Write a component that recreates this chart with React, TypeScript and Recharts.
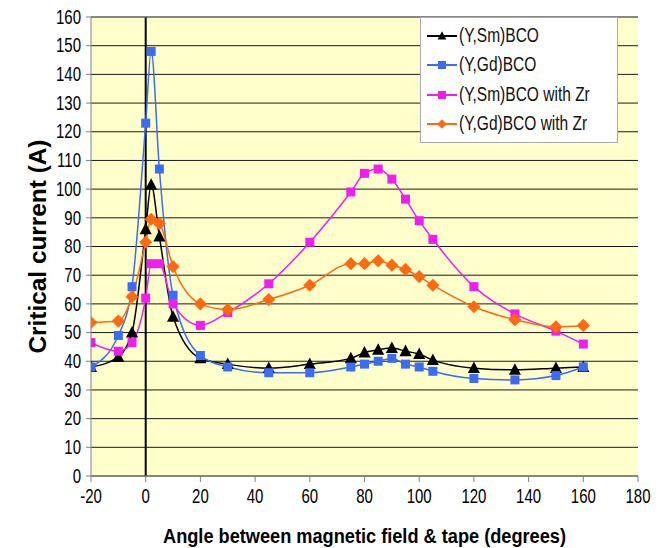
import React from "react";
import { LineChart, Line, XAxis, YAxis, CartesianGrid, ReferenceLine } from "recharts";

const angles = [-20, -10, -5, 0, 2, 5, 10, 20, 30, 45, 60, 75, 80, 85, 90, 95, 100, 105, 120, 135, 150, 160];
const ysmBCO = [38, 41.5, 50, 86, 101.5, 83.5, 55.5, 41, 39, 37.6, 39, 41, 43, 44, 44.6, 43.5, 42.5, 40.4, 37.6, 37, 37.6, 38];
const ygdBCO = [38, 49, 66, 123, 148, 107, 63, 42, 38, 36, 36, 38, 39, 40, 41, 39, 38, 36.5, 34, 33.5, 35, 38];
const ysmZr = [46.5, 43.5, 46.5, 62, 74, 74, 60, 52.5, 57, 67, 81.5, 99, 105.5, 107, 103.5, 96.5, 89, 82.5, 66, 56.5, 50.5, 46];
const ygdZr = [53.5, 54, 62.5, 81.5, 89.5, 88, 73, 60, 58, 61.5, 66.5, 74, 74, 75, 73.5, 72, 69.5, 66.5, 59, 54.5, 52, 52.5];
const seriesNames = ["(Y,Sm)BCO", "(Y,Gd)BCO", "(Y,Sm)BCO with Zr", "(Y,Gd)BCO with Zr"];
const xTicks = [-20, 0, 20, 40, 60, 80, 100, 120, 140, 160, 180];
const yTicks = [0, 10, 20, 30, 40, 50, 60, 70, 80, 90, 100, 110, 120, 130, 140, 150, 160];

const data = angles.map((a, i) => ({ angle: a, s1: ysmBCO[i], s2: ygdBCO[i], s3: ysmZr[i], s4: ygdZr[i] }));

const colors = ["#000000", "#3a6cf4", "#f01ef0", "#ff6a10"];
const shapes = ["triangle", "square", "square", "diamond"];
const font = "'Liberation Sans', Arial, sans-serif";

function Marker({ cx, cy, shape, color, size }: any) {
  if (cx == null || cy == null) return null;
  const s = size;
  if (shape === "triangle") {
    return <path d={`M${cx},${cy - s * 0.6} L${cx + s * 0.55},${cy + s * 0.45} L${cx - s * 0.55},${cy + s * 0.45} Z`} fill={color} />;
  }
  if (shape === "diamond") {
    return <path d={`M${cx},${cy - s * 0.6} L${cx + s * 0.6},${cy} L${cx},${cy + s * 0.6} L${cx - s * 0.6},${cy} Z`} fill={color} />;
  }
  return <rect x={cx - s / 2} y={cy - s / 2} width={s} height={s} fill={color} />;
}

const makeDot = (idx: number) => (props: any) => (
  <Marker key={`d${idx}-${props.index}`} cx={props.cx} cy={props.cy} shape={shapes[idx]} color={colors[idx]} size={idx === 0 ? 11 : idx === 3 ? 11 : 9} />
);

function LegendBox() {
  return (
    <div style={{ position: "absolute", left: 412, top: 9, background: "#fff", border: "1px solid #aaa", width: 198, height: 126, boxSizing: "border-box", padding: "3px 0 0 6px", fontFamily: font, fontSize: 16, color: "#111" }}>
      {seriesNames.map((n, i) => (
        <div key={n} style={{ display: "flex", alignItems: "center", height: 29.5 }}>
          <svg width={30} height={14} style={{ marginRight: 2 }}>
            <line x1={0} y1={7} x2={30} y2={7} stroke={colors[i]} strokeWidth={2} />
            <Marker cx={15} cy={7} shape={shapes[i]} color={colors[i]} size={8} />
          </svg>
          <span style={{ display: "inline-block", whiteSpace: "nowrap", transform: "scale(0.97, 1.28)", transformOrigin: "left center" }}>{n}</span>
        </div>
      ))}
    </div>
  );
}

const XTick = (props: any) => {
  const { x, y, payload } = props;
  return (
    <text transform={`translate(${x} ${y + 12}) scale(1 1.3)`} textAnchor="middle" dominantBaseline="central" fill="#000" fontSize={15} fontFamily={font}>
      {payload.value}
    </text>
  );
};

const YTick = (props: any) => {
  const { x, y, payload } = props;
  return (
    <text transform={`translate(${x} ${y}) scale(1 1.3)`} textAnchor="end" dominantBaseline="central" fill="#000" fontSize={15} fontFamily={font}>
      {payload.value}
    </text>
  );
};

const XLabel = (props: any) => {
  const vb = props.viewBox || {};
  const cx = vb.x + vb.width / 2;
  return (
    <text x={cx} y={vb.y + 67} textAnchor="middle" fill="#000" fontSize={20} fontWeight="bold" fontFamily={font} textLength={403} lengthAdjust="spacingAndGlyphs">
      Angle between magnetic field &amp; tape (degrees)
    </text>
  );
};

const YLabel = (props: any) => {
  const vb = props.viewBox || {};
  const cx = 30;
  const cy = vb.y + vb.height / 2;
  return (
    <text x={cx} y={cy} transform={`rotate(-90 ${cx} ${cy})`} textAnchor="middle" dominantBaseline="central" fill="#000" fontSize={23} fontWeight="bold" fontFamily={font} textLength={214} lengthAdjust="spacingAndGlyphs">
      Critical current (A)
    </text>
  );
};

export default function App() {
  return (
    <div style={{ position: "relative", width: 660, height: 540 }}>
      <style>{"svg.recharts-surface { overflow: visible; }"}</style>
      <LineChart width={660} height={540} data={data} margin={{ top: 9, right: 30, bottom: 0, left: 0 }} style={{ fontFamily: font }}>
        <CartesianGrid vertical={false} stroke="#1a1a1a" strokeWidth={1} fill="#ffffcc" fillOpacity={1} />
        <XAxis
          dataKey="angle"
          type="number"
          domain={[-20, 180]}
          ticks={xTicks}
          interval={0}
          allowDataOverflow
          stroke="#808080"
          tick={<XTick />}
          tickSize={6}
          tickMargin={2}
          height={72}
          label={<XLabel />}
        />
        <YAxis
          domain={[0, 160]}
          ticks={yTicks}
          interval={0}
          stroke="#808080"
          tick={<YTick />}
          tickSize={5}
          tickMargin={5}
          width={83}
          label={<YLabel />}
        />
        <YAxis yAxisId="r" orientation="right" domain={[0, 160]} tick={false} tickLine={false} stroke="#808080" width={0} />
        <ReferenceLine x={0} stroke="#000" strokeWidth={2} />
        <ReferenceLine y={160} stroke="#808080" strokeWidth={1} />
        <Line dataKey="s1" type="monotone" stroke={colors[0]} strokeWidth={1.5} dot={makeDot(0)} isAnimationActive={false} />
        <Line dataKey="s2" type="monotone" stroke={colors[1]} strokeWidth={1.5} dot={makeDot(1)} isAnimationActive={false} />
        <Line dataKey="s3" type="monotone" stroke={colors[2]} strokeWidth={1.5} dot={makeDot(2)} isAnimationActive={false} />
        <Line dataKey="s4" type="monotone" stroke={colors[3]} strokeWidth={1.5} dot={makeDot(3)} isAnimationActive={false} />
      </LineChart>
      <LegendBox />
    </div>
  );
}
